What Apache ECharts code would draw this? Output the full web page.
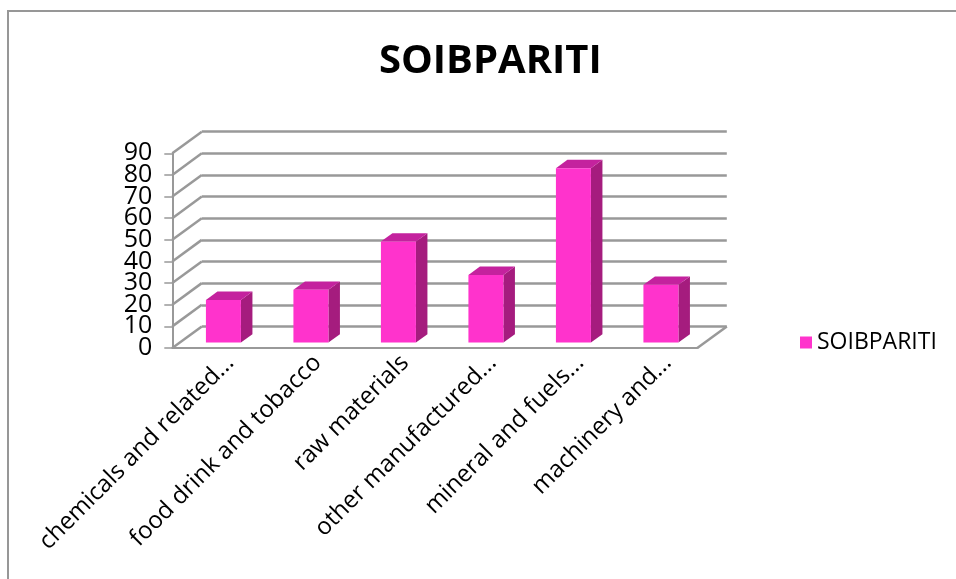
<!DOCTYPE html>
<html>
<head>
<meta charset="utf-8">
<script src="https://cdn.jsdelivr.net/npm/echarts@6/dist/echarts.min.js"></script>
<style>
  html, body { margin: 0; padding: 0; background: #fff; }
  #chart { width: 956px; height: 579px; }
</style>
</head>
<body>
<div id="chart"></div>
<script>
// data
const categories = [
  'chemicals and related...',
  'food drink and tobacco',
  'raw materials',
  'other manufactured...',
  'mineral and fuels...',
  'machinery and...'
]
const values = [19.7, 24.4, 46.7, 31.3, 80.6, 26.7]
const yTicks = [0, 10, 20, 30, 40, 50, 60, 70, 80, 90]
const seriesName = 'SOIBPARITI'

// 3d look: depth offset of the back wall, and where the bars sit in that depth
const DX = 29.5
const DY = -21.6
const BAR_FRONT = 0.25
const BAR_DEPTH = 0.39

const FRONT = '#ff33cc'
const SIDE = '#a51c7e'
const TOP = '#c4229e'
const GRID_COLOR = '#999999'
const FONT = 'Open Sans'

const chart = echarts.init(document.getElementById('chart'))

// left wall diagonals + right floor edge
function renderWalls(params, api) {
  const v = api.value(1)
  const band = api.size([1, 0])[0]
  const p = api.coord([0, v])
  const xl = p[0] - band / 2
  const children = [{
    type: 'line',
    shape: { x1: xl, y1: p[1], x2: xl + DX, y2: p[1] + DY },
    style: { stroke: GRID_COLOR, lineWidth: 2.5 }
  }]
  if (v === 0) {
    const q = api.coord([categories.length - 1, 0])
    const xr = q[0] + band / 2
    children.push({
      type: 'line',
      shape: { x1: xr, y1: q[1], x2: xr + DX, y2: q[1] + DY },
      style: { stroke: GRID_COLOR, lineWidth: 2.5 }
    })
  }
  return { type: 'group', children }
}

function renderBar(params, api) {
  const i = api.value(0)
  const v = api.value(1)
  const band = api.size([1, 0])[0]
  const base = api.coord([i, 0])
  const top = api.coord([i, v])
  const w = band * 0.4
  const x0 = base[0] - w / 2 + BAR_FRONT * DX
  const x1 = x0 + w
  const yb = base[1] + BAR_FRONT * DY
  const yt = top[1] + BAR_FRONT * DY
  const ddx = BAR_DEPTH * DX
  const ddy = BAR_DEPTH * DY
  return {
    type: 'group',
    children: [
      {
        type: 'polygon',
        shape: { points: [[x1, yt], [x1 + ddx, yt + ddy], [x1 + ddx, yb + ddy], [x1, yb]] },
        style: { fill: SIDE }
      },
      {
        type: 'polygon',
        shape: { points: [[x0, yt], [x0 + ddx, yt + ddy], [x1 + ddx, yt + ddy], [x1, yt]] },
        style: { fill: TOP }
      },
      {
        type: 'rect',
        shape: { x: x0, y: yt, width: w, height: yb - yt },
        style: { fill: FRONT }
      }
    ]
  }
}

// the tick labels are taller than one step, so they are split over two
// overlaid axes (even and odd tens) to stop echarts dropping any of them
function tickLabelAxis(keepEven, showLine) {
  return {
    gridIndex: 0,
    type: 'value',
    position: 'left',
    offset: 0,
    min: 0,
    max: 90,
    interval: 10,
    axisLine: { show: showLine, lineStyle: { color: GRID_COLOR, width: 2 } },
    axisTick: { show: showLine, length: 8, lineStyle: { color: GRID_COLOR, width: 1.5 } },
    splitLine: { show: false },
    axisLabel: {
      margin: 20,
      fontFamily: FONT,
      fontSize: 25,
      color: '#000',
      formatter: v => ((v / 10) % 2 === 0) === keepEven ? String(v) : ''
    }
  }
}

const option = {
  animation: false,
  backgroundColor: '#fff',
  graphic: [{
    type: 'rect',
    shape: { x: 8, y: 11, width: 970, height: 600 },
    style: { fill: 'none', stroke: '#979797', lineWidth: 2 },
    silent: true
  }],
  title: {
    text: 'SOIBPARITI',
    left: 374,
    top: 37,
    textStyle: { fontFamily: FONT, fontSize: 40, fontWeight: 'bold', color: '#000' }
  },
  legend: {
    data: [seriesName],
    left: 795,
    top: 326,
    icon: 'rect',
    itemWidth: 12,
    itemHeight: 12,
    itemGap: 6,
    textStyle: { fontFamily: FONT, fontSize: 23, color: '#000' }
  },
  grid: [
    // front plane
    { left: 172.3, top: 153.3, width: 525, height: 194.7 },
    // back wall
    { left: 172.3 + DX, top: 153.3 + DY, width: 525, height: 194.7 },
    // category labels sit a bit right of the front ticks
    { left: 172.3 + 14, top: 153.3, width: 525, height: 194.7 }
  ],
  xAxis: [
    {
      gridIndex: 0,
      type: 'category',
      data: categories,
      axisLine: { lineStyle: { color: GRID_COLOR, width: 2 } },
      axisTick: { length: 8, lineStyle: { color: GRID_COLOR, width: 1.5 } },
      axisLabel: { show: false }
    },
    { gridIndex: 1, type: 'category', data: categories, show: false },
    {
      gridIndex: 2,
      type: 'category',
      data: categories,
      axisLine: { show: false },
      axisTick: { show: false },
      axisLabel: {
        interval: 0,
        rotate: 45,
        margin: 11,
        fontFamily: FONT,
        fontSize: 24,
        color: '#000'
      }
    }
  ],
  yAxis: [
    tickLabelAxis(true, true),
    {
      gridIndex: 1,
      type: 'value',
      min: 0,
      max: 90,
      interval: 10,
      axisLine: { show: false },
      axisTick: { show: false },
      axisLabel: { show: false },
      splitLine: { show: true, lineStyle: { color: GRID_COLOR, width: 2.5 } }
    },
    { gridIndex: 2, type: 'value', min: 0, max: 90, show: false },
    tickLabelAxis(false, false)
  ],
  series: [
    {
      name: 'walls',
      type: 'custom',
      xAxisIndex: 0,
      yAxisIndex: 0,
      renderItem: renderWalls,
      data: yTicks.map(v => [0, v]),
      silent: true,
      z: 1
    },
    {
      name: seriesName,
      type: 'custom',
      xAxisIndex: 0,
      yAxisIndex: 0,
      renderItem: renderBar,
      itemStyle: { color: FRONT },
      data: values.map((v, i) => [i, v]),
      z: 3
    }
  ]
}

chart.setOption(option)
</script>
</body>
</html>
